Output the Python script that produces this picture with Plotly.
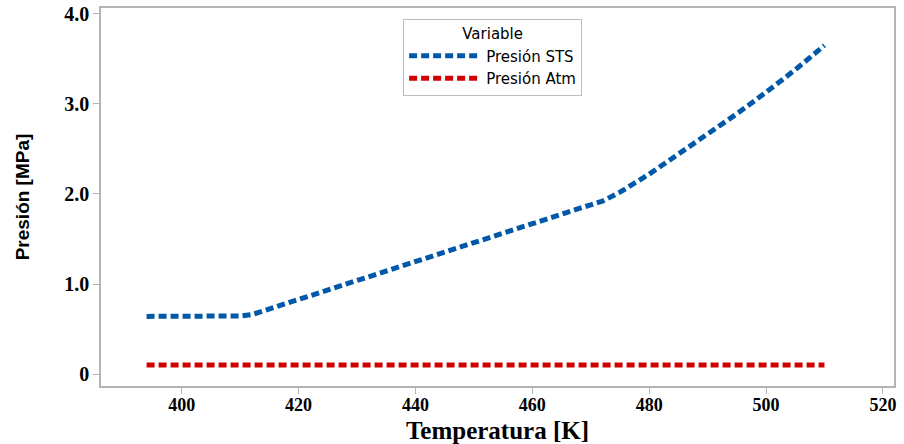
import plotly.graph_objects as go

temp_sts = [394, 400, 405, 410, 412, 420, 430, 440, 450, 460, 470, 472, 475, 480, 485, 490, 495, 500, 505, 510]
pres_sts = [0.64, 0.64, 0.64, 0.645, 0.66, 0.83, 1.04, 1.25, 1.46, 1.67, 1.88, 1.92, 2.02, 2.22, 2.44, 2.66, 2.89, 3.13, 3.38, 3.65]

temp_atm = [394, 510]
pres_atm = [0.1, 0.1]

xtick_vals = [400, 420, 440, 460, 480, 500, 520]
ytick_vals = [0, 1, 2, 3, 4]
ytick_text = ["0", "1.0", "2.0", "3.0", "4.0"]

blue = "#0058A8"
red = "#D00000"

fig = go.Figure()
fig.add_trace(go.Scatter(x=temp_sts, y=pres_sts, mode="lines", name="Presión STS",
                         line=dict(color=blue, width=5, dash="8px,4px")))
fig.add_trace(go.Scatter(x=temp_atm, y=pres_atm, mode="lines", name="Presión Atm",
                         line=dict(color=red, width=5, dash="8px,4px")))

axis_line = "#B4B4B4"
fig.update_layout(
    width=904, height=444,
    margin=dict(l=101, r=10, t=8, b=58, autoexpand=False),
    paper_bgcolor="white", plot_bgcolor="white",
    showlegend=True,
    legend=dict(
        x=0.381, y=0.971, xanchor="left", yanchor="top",
        bordercolor="#BDBDBD", borderwidth=1, bgcolor="white",
        font=dict(family="DejaVu Sans", size=15, color="black"),
        title=dict(text="Variable", side="top center",
                   font=dict(family="DejaVu Sans", size=15, color="black")),
        itemwidth=72, tracegroupgap=0,
    ),
    xaxis=dict(
        range=[386.2, 521.9], tickvals=xtick_vals, automargin=False,
        showgrid=False, zeroline=False,
        showline=True, linecolor=axis_line, linewidth=1.5, mirror=True,
        ticks="outside", ticklen=6, tickcolor=axis_line, ticklabelstandoff=-4,
        tickfont=dict(family="Liberation Serif", size=18, color="black", weight="bold"),
        title=dict(text="<b>Temperatura [K]</b>", standoff=8,
                   font=dict(family="Liberation Serif", size=25, color="black")),
    ),
    yaxis=dict(
        range=[-0.133, 4.066], tickvals=ytick_vals, ticktext=ytick_text, automargin=False,
        showgrid=False, zeroline=False,
        showline=True, linecolor=axis_line, linewidth=1.5, mirror=True,
        ticks="outside", ticklen=6, tickcolor=axis_line,
        tickfont=dict(family="Liberation Serif", size=20, color="black", weight="bold"),
        title=dict(text="<b>Presión [MPa]</b>", standoff=30,
                   font=dict(family="Liberation Sans", size=19, color="black")),
    ),
)

fig.write_html("out.html")
